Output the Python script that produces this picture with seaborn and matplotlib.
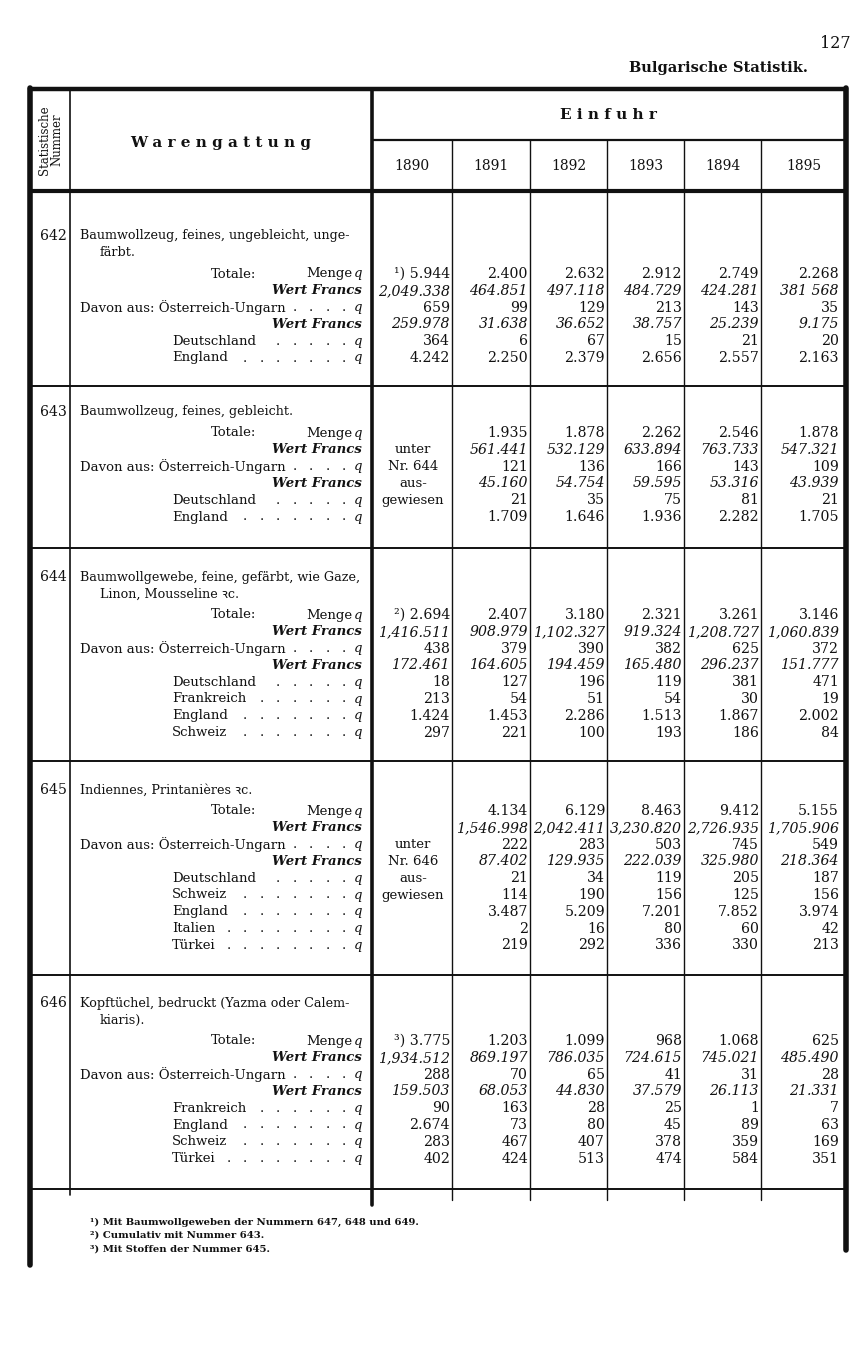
'''Bulgarische Statistik, Einfuhr 1890-1895, Seite 127'''
import matplotlib
matplotlib.use('Agg')
import matplotlib.pyplot as plt
import seaborn as sns

years = ['1890', '1891', '1892', '1893', '1894', '1895']

# one entry per block: number, title lines, row labels, values per row (1890..1895)
nummern = ['642', '643', '644', '645', '646']

titles = [
    ['Baumwollzeug, feines, ungebleicht, unge-', 'färbt.'],
    ['Baumwollzeug, feines, gebleicht.'],
    ['Baumwollgewebe, feine, gefärbt, wie Gaze,', 'Linon, Mousseline ꝛc.'],
    ['Indiennes, Printanières ꝛc.'],
    ['Kopftüchel, bedruckt (Yazma oder Calem-', 'kiaris).'],
]

rows_642 = ['Totale', 'Wert', 'Davon', 'Wert', 'Deutschland', 'England']
vals_642 = [
    ['¹) 5.944', '2.400', '2.632', '2.912', '2.749', '2.268'],
    ['2,049.338', '464.851', '497.118', '484.729', '424.281', '381 568'],
    ['659', '99', '129', '213', '143', '35'],
    ['259.978', '31.638', '36.652', '38.757', '25.239', '9.175'],
    ['364', '6', '67', '15', '21', '20'],
    ['4.242', '2.250', '2.379', '2.656', '2.557', '2.163'],
]

rows_643 = ['Totale', 'Wert', 'Davon', 'Wert', 'Deutschland', 'England']
vals_643 = [
    ['', '1.935', '1.878', '2.262', '2.546', '1.878'],
    ['', '561.441', '532.129', '633.894', '763.733', '547.321'],
    ['', '121', '136', '166', '143', '109'],
    ['', '45.160', '54.754', '59.595', '53.316', '43.939'],
    ['', '21', '35', '75', '81', '21'],
    ['', '1.709', '1.646', '1.936', '2.282', '1.705'],
]
note_643 = ['unter', 'Nr. 644', 'aus-', 'gewiesen']

rows_644 = ['Totale', 'Wert', 'Davon', 'Wert', 'Deutschland', 'Frankreich',
            'England', 'Schweiz']
vals_644 = [
    ['²) 2.694', '2.407', '3.180', '2.321', '3.261', '3.146'],
    ['1,416.511', '908.979', '1,102.327', '919.324', '1,208.727', '1,060.839'],
    ['438', '379', '390', '382', '625', '372'],
    ['172.461', '164.605', '194.459', '165.480', '296.237', '151.777'],
    ['18', '127', '196', '119', '381', '471'],
    ['213', '54', '51', '54', '30', '19'],
    ['1.424', '1.453', '2.286', '1.513', '1.867', '2.002'],
    ['297', '221', '100', '193', '186', '84'],
]

rows_645 = ['Totale', 'Wert', 'Davon', 'Wert', 'Deutschland', 'Schweiz',
            'England', 'Italien', 'Türkei']
vals_645 = [
    ['', '4.134', '6.129', '8.463', '9.412', '5.155'],
    ['', '1,546.998', '2,042.411', '3,230.820', '2,726.935', '1,705.906'],
    ['', '222', '283', '503', '745', '549'],
    ['', '87.402', '129.935', '222.039', '325.980', '218.364'],
    ['', '21', '34', '119', '205', '187'],
    ['', '114', '190', '156', '125', '156'],
    ['', '3.487', '5.209', '7.201', '7.852', '3.974'],
    ['', '2', '16', '80', '60', '42'],
    ['', '219', '292', '336', '330', '213'],
]
note_645 = ['unter', 'Nr. 646', 'aus-', 'gewiesen']

rows_646 = ['Totale', 'Wert', 'Davon', 'Wert', 'Frankreich', 'England',
            'Schweiz', 'Türkei']
vals_646 = [
    ['³) 3.775', '1.203', '1.099', '968', '1.068', '625'],
    ['1,934.512', '869.197', '786.035', '724.615', '745.021', '485.490'],
    ['288', '70', '65', '41', '31', '28'],
    ['159.503', '68.053', '44.830', '37.579', '26.113', '21.331'],
    ['90', '163', '28', '25', '1', '7'],
    ['2.674', '73', '80', '45', '89', '63'],
    ['283', '467', '407', '378', '359', '169'],
    ['402', '424', '513', '474', '584', '351'],
]

footnotes = [
    '¹) Mit Baumwollgeweben der Nummern 647, 648 und 649.',
    '²) Cumulativ mit Nummer 643.',
    '³) Mit Stoffen der Nummer 645.',
]

blocks = [
    (rows_642, vals_642, None),
    (rows_643, vals_643, note_643),
    (rows_644, vals_644, None),
    (rows_645, vals_645, note_645),
    (rows_646, vals_646, None),
]

sns.set_style('white')
# fallbacks for the old "ꝛc." abbreviation sign
plt.rcParams['font.family'] = ['DejaVu Serif', 'DejaVu Sans', 'Noto Sans',
                               'Liberation Serif']

fig = plt.figure(figsize=(8.66, 13.55), dpi=100)
ax = fig.add_axes([0, 0, 1, 1])
ax.set_xlim(0, 866)
ax.set_ylim(1355, 0)
ax.axis('off')
renderer = fig.canvas.get_renderer()

ink = '#111111'
lab_fs = 9.5
title_fs = 9.2
num_fs = 10.2

# page head
ax.text(851, 44, '127', ha='right', va='center', fontsize=11.5, color=ink)
ax.text(808, 68, 'Bulgarische Statistik.', ha='right', va='center',
        fontsize=10.5, fontweight='bold', color=ink)

# frame and column rules
col_edges = [372, 452, 530, 607, 684, 761, 846]
num_right = [450, 528, 605, 682, 759, 839]
left, right = 30, 846
ax.plot([left, right], [89, 89], color=ink, lw=3.2)
ax.plot([left, right], [191, 191], color=ink, lw=3.0)
ax.plot([372, right], [140, 140], color=ink, lw=1.6)
ax.plot([left, left], [88, 1265], color=ink, lw=4.0)
ax.plot([right, right], [88, 1250], color=ink, lw=4.0)
ax.plot([70, 70], [89, 1195], color=ink, lw=1.2)
ax.plot([372, 372], [89, 1205], color=ink, lw=2.6)
for x in col_edges[1:-1]:
    ax.plot([x, x], [140, 1200], color=ink, lw=1.0)

# header
ax.text(51, 140, 'Statistische\nNummer', rotation=90, ha='center', va='center',
        fontsize=8.5, color=ink, linespacing=0.95)
ax.text(221, 143, 'W a r e n g a t t u n g', ha='center', va='center',
        fontsize=11, fontweight='bold', color=ink)
ax.text(608, 115, 'E i n f u h r', ha='center', va='center',
        fontsize=11, fontweight='bold', color=ink)
for i, yr in enumerate(years):
    ax.text((col_edges[i] + col_edges[i + 1]) / 2, 166, yr, ha='center',
            va='center', fontsize=10, color=ink)

title_y = [236, 412, 577, 790, 1003]
sep_y = [386, 548, 761, 975, 1189]
step = 16.8
lab_right = 362


def leader(t, y):
    # dotted leader from the end of a label up to the "q"
    end = t.get_window_extent(renderer).x1
    x = 344
    while x > end + 6:
        ax.text(x, y, '.', ha='center', va='center', fontsize=lab_fs, color=ink)
        x -= 16.5
    ax.text(lab_right, y, 'q', ha='right', va='center', fontsize=lab_fs,
            style='italic', color=ink)


for b, (rows, vals, note) in enumerate(blocks):
    ty = title_y[b]
    ax.text(67, ty, nummern[b], ha='right', va='center', fontsize=num_fs, color=ink)
    for k, line in enumerate(titles[b]):
        ax.text(80 if k == 0 else 100, ty + k * 17, line, ha='left', va='center',
                fontsize=title_fs, color=ink)
    y0 = ty + (len(titles[b]) - 1) * 17 + 21
    for r, name in enumerate(rows):
        y = y0 + r * step
        wert = name == 'Wert'
        if name == 'Totale':
            ax.text(256, y, 'Totale:', ha='right', va='center', fontsize=lab_fs, color=ink)
            ax.text(lab_right - 10, y, 'Menge', ha='right', va='center', fontsize=lab_fs, color=ink)
            ax.text(lab_right, y, 'q', ha='right', va='center', fontsize=lab_fs,
                    style='italic', color=ink)
        elif wert:
            ax.text(lab_right, y, 'Wert Francs', ha='right', va='center',
                    fontsize=lab_fs, style='italic', fontweight='bold', color=ink)
        elif name == 'Davon':
            t = ax.text(80, y, 'Davon aus: Österreich-Ungarn', ha='left', va='center',
                        fontsize=lab_fs, color=ink)
            leader(t, y)
        else:
            t = ax.text(172, y, name, ha='left', va='center', fontsize=lab_fs, color=ink)
            leader(t, y)
        for c, v in enumerate(vals[r]):
            if not v:
                continue
            ax.text(num_right[c], y, v, ha='right', va='center',
                    fontsize=num_fs, style='italic' if wert else 'normal',
                    color=ink)
    if note is not None:
        start = 1 if b == 1 else 2
        for k, line in enumerate(note):
            ax.text(413, y0 + (start + k) * step, line, ha='center', va='center',
                    fontsize=lab_fs, color=ink)
    ax.plot([left, right], [sep_y[b], sep_y[b]], color=ink, lw=1.4)

for k, fn in enumerate(footnotes):
    ax.text(90, 1222 + k * 13.5, fn, ha='left', va='center', fontsize=7.2,
            fontweight='bold', color=ink)

fig.savefig('out.png', dpi=100)
